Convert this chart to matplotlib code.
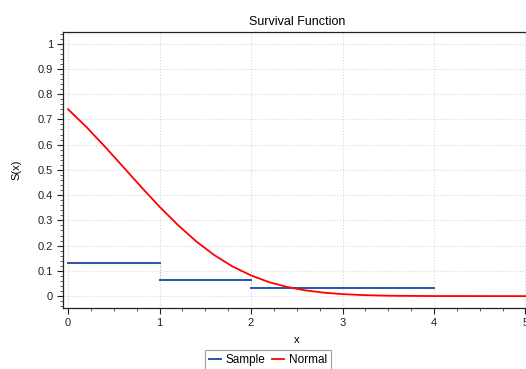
import matplotlib
matplotlib.use("Agg")
import matplotlib.pyplot as plt
from matplotlib.ticker import MultipleLocator

plt.rcParams['font.family'] = ['Liberation Sans', 'DejaVu Sans']

# sample (empirical) survival steps
step_x0 = [0, 1, 2]
step_x1 = [1, 2, 4]
step_s = [0.13, 0.065, 0.034]

# fitted normal survival curve
norm_x = [0, 0.2, 0.4, 0.6, 0.8, 1.0, 1.2, 1.4, 1.6, 1.8, 2.0, 2.2, 2.4,
          2.6, 2.8, 3.0, 3.2, 3.4, 3.6, 4.0, 5.0]
norm_s = [0.740, 0.670, 0.593, 0.513, 0.432, 0.354, 0.282, 0.217, 0.162,
          0.117, 0.082, 0.055, 0.036, 0.0225, 0.0136, 0.008, 0.0045, 0.0024,
          0.0012, 0.0003, 0.0]

blue = '#2457a8'
red = '#ff0000'

fig = plt.figure(figsize=(5.26, 3.69), dpi=100)
ax = fig.add_axes([0.1207, 0.166, 0.887, 0.748])

for i in range(len(step_s)):
    ax.plot([step_x0[i], step_x1[i]], [step_s[i], step_s[i]], color=blue, lw=1.4,
            label='Sample' if i == 0 else None, zorder=3)
    if i > 0:
        ax.plot([step_x0[i], step_x0[i]], [step_s[i - 1], step_s[i]],
                color='#9bb3d8', lw=0.8, ls=':', zorder=2)

ax.plot(norm_x, norm_s, color=red, lw=1.3, label='Normal', zorder=4)

ax.set_xlim(-0.05, 5.05)
ax.set_ylim(-0.046, 1.047)
ax.xaxis.set_major_locator(MultipleLocator(1))
ax.xaxis.set_minor_locator(MultipleLocator(0.25))
ax.yaxis.set_major_locator(MultipleLocator(0.1))
ax.yaxis.set_minor_locator(MultipleLocator(0.02))
ax.set_yticks([0, 0.1, 0.2, 0.3, 0.4, 0.5, 0.6, 0.7, 0.8, 0.9, 1.0])
ax.set_yticklabels(['0', '0.1', '0.2', '0.3', '0.4', '0.5', '0.6', '0.7', '0.8', '0.9', '1'])
ax.tick_params(which='major', direction='out', length=4, width=0.8, labelsize=8, colors='#222222')
ax.tick_params(which='minor', direction='out', length=2, width=0.6, color='#444444')
ax.grid(True, which='major', color='#d8d8d8', ls=':', lw=0.8)
for sp in ax.spines.values():
    sp.set_color('#222222')
    sp.set_linewidth(0.9)

ax.set_title('Survival Function', fontsize=9, pad=5)
ax.set_xlabel('x', fontsize=8, labelpad=5)
ax.set_ylabel('S(x)', fontsize=8, labelpad=12)

h, l = ax.get_legend_handles_labels()
leg = fig.legend(h, l, loc='center', bbox_to_anchor=(268 / 526, 1 - 360 / 369), ncol=2,
                 fontsize=8.5, frameon=True, fancybox=False, handlelength=1.0,
                 handletextpad=0.4, columnspacing=0.6, borderpad=0.35)
leg.get_frame().set_edgecolor('#888888')
leg.get_frame().set_linewidth(0.8)

fig.savefig('out.png', dpi=100)
